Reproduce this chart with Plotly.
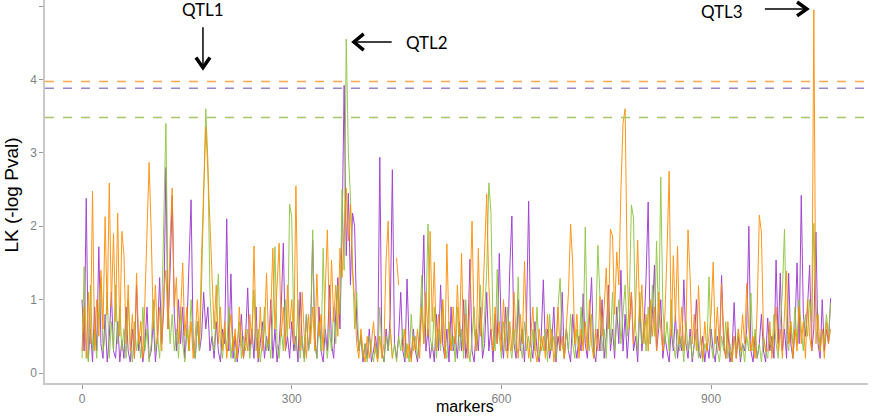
import plotly.graph_objects as go

# marker positions (every 3rd marker)
markers = list(range(0, 1072, 3))

# LK (-log Pval) per trait
lk_purple = [
    1.0,0.3,2.38,0.2,0.6,0.15,0.9,0.3,1.72,0.4,0.2,0.8,0.15,0.5,1.1,0.3,0.2,0.7,0.15,0.45,
    0.2,0.9,0.3,0.15,0.6,0.2,1.2,0.3,0.5,0.15,0.4,0.9,0.2,0.3,0.7,0.15,0.5,1.3,0.4,0.9,
    2.8,0.6,1.4,2.42,0.8,0.3,1.0,0.4,0.9,0.2,0.6,1.5,2.36,0.4,0.2,0.7,0.3,0.5,1.1,0.6,
    0.9,0.3,0.5,0.2,0.7,0.3,0.15,0.6,0.4,2.1,0.3,1.35,0.2,0.5,0.15,0.4,0.8,0.2,0.5,1.16,
    0.3,0.6,0.2,0.9,0.15,0.4,0.7,0.2,0.5,0.3,1.0,0.2,0.6,0.15,0.4,0.9,1.77,0.3,0.5,0.2,
    0.7,0.3,0.5,0.15,1.1,0.4,0.2,0.8,0.3,0.6,1.81,0.5,0.2,0.9,0.3,0.15,0.6,0.3,1.2,0.4,
    0.2,0.8,1.3,0.6,1.9,3.92,1.6,2.45,1.2,2.18,2.0,0.7,0.3,0.5,0.15,0.4,0.2,0.6,0.15,0.3,
    0.5,0.2,2.94,0.3,0.15,0.6,0.3,0.8,2.77,0.4,0.2,0.5,1.1,0.3,0.15,1.28,0.4,0.2,0.6,0.3,
    0.15,0.5,0.9,1.88,0.3,0.6,0.2,0.4,0.15,0.8,0.3,1.2,0.4,0.2,0.6,0.15,0.9,0.3,0.5,0.2,
    0.7,0.3,1.0,0.2,0.5,1.55,0.3,0.15,0.6,0.3,0.9,0.2,0.4,1.1,0.3,0.6,0.15,0.8,0.4,1.63,
    0.5,0.2,0.9,0.3,1.43,2.14,0.4,0.2,1.0,0.3,0.6,0.15,0.8,2.34,0.4,0.2,0.7,0.3,0.15,0.5,
    1.27,0.3,0.6,0.2,0.4,0.9,0.15,0.5,0.3,1.1,0.2,0.6,0.3,0.15,0.8,0.4,0.2,0.5,0.3,1.08,
    0.4,0.2,0.7,1.3,0.3,0.15,0.6,0.3,1.0,0.2,0.5,1.2,0.3,0.6,0.2,0.9,0.4,1.4,0.3,0.8,
    0.2,0.6,1.1,0.3,0.5,0.15,0.9,0.3,0.6,1.3,2.33,0.4,0.8,1.47,0.3,0.6,1.0,0.2,0.5,0.3,
    0.15,0.6,0.3,0.8,0.2,0.5,0.3,1.27,0.4,0.2,0.6,0.15,0.4,1.0,0.3,0.2,0.5,0.15,0.4,0.2,
    0.6,0.3,0.15,0.5,0.3,1.33,0.4,0.2,0.6,0.15,0.3,0.96,0.2,0.5,0.15,0.4,0.3,0.6,2.0,0.3,
    0.15,0.5,0.2,0.4,0.8,0.3,0.15,0.75,0.3,0.5,0.2,1.54,0.4,1.36,0.3,0.6,0.2,1.36,0.4,0.2,
    0.6,1.5,0.4,2.42,0.8,0.5,0.9,1.47,0.3,0.6,1.92,0.4,0.2,1.0,0.3,0.6,0.4,1.02,
]
lk_green = [
    0.2,1.45,0.4,0.15,1.2,0.3,0.6,0.2,0.9,1.3,0.3,0.5,1.1,0.2,0.7,0.3,1.2,0.4,0.9,0.3,
    0.6,0.2,1.0,0.4,0.15,0.7,0.3,0.5,0.2,0.9,0.3,0.6,0.15,0.4,1.0,0.3,0.5,0.2,0.8,2.3,
    3.4,1.0,0.4,0.8,0.3,0.6,0.2,0.9,0.4,0.15,0.6,0.3,1.0,0.4,0.2,0.7,0.3,1.2,2.63,3.6,
    2.9,1.1,0.5,0.3,0.8,1.35,0.4,0.2,0.6,0.3,0.9,0.2,0.5,0.15,0.4,0.7,0.2,0.5,0.3,0.6,
    0.2,0.5,1.13,0.3,0.6,0.15,0.4,0.9,0.3,0.5,0.2,0.8,1.72,0.4,0.2,0.6,0.3,1.0,0.5,2.3,
    2.12,0.6,0.3,1.0,0.2,0.5,0.15,0.8,0.3,0.6,1.95,0.4,0.2,0.7,0.3,1.7,0.5,0.2,0.6,0.3,
    0.9,0.4,1.2,0.8,2.5,1.4,4.55,3.0,2.4,1.5,0.6,1.1,0.3,0.5,0.2,0.4,0.15,0.5,0.3,0.15,
    0.4,0.2,0.9,0.3,0.15,0.5,0.3,0.6,0.2,0.4,0.15,0.5,0.3,0.6,0.2,0.4,0.15,0.8,0.3,0.5,
    0.2,0.6,1.33,0.4,0.8,2.03,0.5,0.3,0.9,0.2,0.6,0.3,1.0,0.4,0.2,0.7,0.3,0.5,0.15,0.9,
    0.3,0.6,0.2,1.0,0.4,0.15,0.5,0.9,0.3,0.6,1.2,0.3,0.8,1.4,2.59,2.2,0.6,0.3,1.41,0.5,
    0.2,0.7,0.3,0.9,0.4,0.2,0.6,0.3,1.31,0.4,0.2,0.7,0.3,0.5,0.15,0.6,0.3,0.9,0.2,0.5,
    0.3,0.6,0.15,0.8,0.3,0.5,0.2,0.9,1.29,0.4,0.2,0.6,0.3,0.8,0.4,0.2,0.6,0.3,0.9,0.4,
    1.99,0.5,0.3,0.8,0.2,0.6,1.74,0.9,0.3,0.6,0.2,0.9,0.4,1.1,0.3,0.7,1.0,0.4,0.8,1.2,
    0.5,1.0,2.29,2.11,0.6,0.3,1.1,0.4,0.7,0.3,0.9,0.4,1.2,0.5,1.8,0.6,2.67,0.9,0.4,0.7,
    0.3,1.0,0.4,0.2,0.6,0.3,0.5,0.15,0.7,0.3,0.5,0.2,0.4,0.6,0.2,0.5,0.15,0.4,0.3,1.31,
    0.4,0.2,0.6,0.3,0.15,0.5,0.3,0.7,0.2,0.4,0.15,0.5,0.3,0.6,0.2,0.4,0.15,0.5,0.3,1.09,
    0.3,0.6,0.2,0.4,0.15,0.5,0.3,0.2,0.6,0.3,0.8,0.4,0.2,0.6,1.1,1.96,0.5,0.3,0.7,0.4,
    0.9,0.4,1.0,0.6,0.3,0.8,0.5,1.0,0.7,2.04,0.9,0.5,0.3,0.6,0.4,0.8,0.5,0.95,
]
lk_orange = [
    0.3,0.9,0.2,1.1,0.4,2.48,0.3,1.0,0.5,1.4,0.6,2.13,0.8,2.59,0.9,1.9,0.7,2.18,0.5,1.93,
    1.6,0.4,1.2,0.3,0.8,0.2,1.36,0.4,0.7,0.2,1.0,1.9,2.87,1.9,0.6,1.2,0.4,0.9,0.3,1.1,
    1.4,0.6,1.8,2.52,0.9,1.3,0.4,0.8,1.5,0.5,0.9,0.3,0.7,0.2,0.5,1.0,0.4,1.6,2.64,3.35,
    2.77,2.07,1.5,0.6,1.2,0.4,0.9,0.3,0.7,0.2,0.5,0.8,0.3,0.6,0.2,0.9,0.4,0.2,0.6,0.3,
    0.8,0.4,1.73,0.5,0.2,0.9,0.3,0.6,1.36,0.4,0.8,1.7,0.6,1.1,1.77,0.5,0.9,0.3,1.2,0.6,
    1.0,0.4,2.55,0.7,0.3,1.1,0.5,0.2,0.8,0.4,0.9,0.3,1.35,0.5,0.8,0.3,1.0,1.95,0.6,1.54,
    0.7,1.2,0.5,1.7,1.3,2.0,2.52,1.8,2.3,1.4,1.0,0.4,0.2,0.6,0.3,0.15,0.5,0.2,0.4,0.7,
    0.3,0.15,0.5,0.2,0.4,1.54,2.07,0.6,0.2,None,1.57,1.2,None,0.3,0.6,0.2,0.4,0.15,0.5,0.3,
    0.6,0.2,0.9,0.4,1.1,0.5,1.93,0.7,1.51,0.3,0.8,0.4,1.0,0.2,1.76,0.6,0.3,0.9,0.4,1.2,
    0.5,1.63,0.3,0.8,0.2,1.0,2.07,0.6,0.3,1.7,0.5,0.9,1.7,2.44,1.2,0.6,0.3,0.9,0.4,0.7,
    0.3,1.0,0.4,0.2,0.7,0.3,1.1,0.5,0.2,0.8,0.4,1.52,0.6,0.2,0.5,0.9,0.3,0.15,0.6,0.3,
    0.5,0.2,0.8,0.3,0.6,0.15,0.4,0.9,0.3,0.5,0.2,0.7,1.1,2.03,1.48,0.4,0.8,0.2,0.6,0.3,
    0.7,0.3,1.0,0.4,0.2,0.6,0.3,1.04,0.5,0.9,1.43,0.6,1.96,1.87,0.8,1.65,1.2,2.5,3.4,3.6,
    1.4,0.6,1.1,0.4,0.9,1.81,0.7,1.2,0.4,0.8,0.3,1.0,0.5,0.9,0.3,1.1,0.6,0.3,0.8,1.66,
    2.75,0.5,1.6,0.7,1.73,0.4,0.9,0.3,0.6,1.95,1.31,0.4,0.8,0.3,1.19,0.5,0.2,0.7,0.3,0.5,
    0.8,1.51,0.4,0.9,0.3,1.22,0.5,0.2,0.7,0.3,0.15,0.5,0.2,0.6,0.3,0.8,0.4,1.22,0.6,0.3,
    0.5,0.2,0.9,2.15,1.92,0.5,0.3,0.3,0.7,0.2,0.5,0.9,0.3,0.6,0.2,0.8,1.39,0.4,0.7,0.2,
    0.6,0.3,0.9,0.4,0.7,0.2,1.0,0.5,0.3,4.95,0.4,0.8,0.3,0.6,0.2,0.7,0.4,0.6,
]

# significance thresholds
thr_orange = 3.97
thr_purple = 3.88
thr_green = 3.48

col_purple = "#9932CC"
col_green = "#8CC43C"
col_orange = "#FF8C00"

assert len(lk_purple) == len(markers) == len(lk_green) == len(lk_orange)

fig = go.Figure()
for vals, col in [(lk_purple, col_purple), (lk_green, col_green), (lk_orange, col_orange)]:
    fig.add_trace(go.Scatter(x=markers, y=vals, mode="lines",
                             line=dict(color=col, width=1.0), opacity=0.9,
                             connectgaps=False, showlegend=False))

# dashed threshold lines (lighter tints of the series colours)
for thr, col in [(thr_orange, "#FFA64D"), (thr_purple, "#9A86C8"), (thr_green, "#A5C866")]:
    fig.add_hline(y=thr, line=dict(color=col, width=1.5, dash="dash"))

# arrows (stem + chevron head)
arrow_line = dict(color="black", width=1.5)
head_line = dict(color="black", width=3.5)
fig.add_shape(type="line", x0=173, x1=173, y0=4.71, y1=4.17, line=arrow_line)
fig.add_shape(type="path", path="M 163 4.3 L 173 4.16 L 183 4.3", line=head_line)
fig.add_shape(type="line", x0=443, x1=390, y0=4.51, y1=4.51, line=arrow_line)
fig.add_shape(type="path", path="M 403 4.62 L 389 4.51 L 403 4.40", line=head_line)
fig.add_shape(type="line", x0=977, x1=1036, y0=4.96, y1=4.96, line=arrow_line)
fig.add_shape(type="path", path="M 1023 5.055 L 1037 4.96 L 1023 4.865", line=head_line)

ann_font = dict(family="Lato", size=17, color="black")
fig.add_annotation(x=173, y=4.95, text="QTL1", showarrow=False, font=ann_font)
fig.add_annotation(x=494, y=4.5, text="QTL2", showarrow=False, font=ann_font)
fig.add_annotation(x=916, y=4.92, text="QTL3", showarrow=False, font=ann_font)

# axis titles placed by hand
fig.add_annotation(xref="paper", yref="paper", x=-0.041, y=0.49, text="LK (-log Pval)",
                   xanchor="center", yanchor="middle", textangle=-90, showarrow=False,
                   font=dict(family="Liberation Sans", size=19, color="black"))
fig.add_annotation(xref="paper", yref="paper", x=0.51, y=-0.061, text="markers",
                   xanchor="center", yanchor="middle", showarrow=False,
                   font=dict(family="Liberation Sans", size=16, color="black"))

axis_common = dict(showgrid=False, zeroline=False, showline=True, linecolor="#C8C8C8",
                   linewidth=1.5, ticks="outside", tickcolor="#9A9A9A", ticklen=4,
                   automargin=False,
                   tickfont=dict(family="Liberation Sans", size=12, color="#7F7F7F"))

fig.update_layout(
    width=873, height=416,
    margin=dict(l=45, r=5, t=0, b=33),
    plot_bgcolor="white", paper_bgcolor="white",
    xaxis=dict(range=[-53, 1124.5], tickvals=[0, 300, 600, 900], **axis_common),
    yaxis=dict(range=[-0.136, 5.082], tickvals=[0, 1, 2, 3, 4, 5], **axis_common),
)

fig.write_html("out.html", config={"displayModeBar": False},
               post_script="document.body.style.margin='0px';")
